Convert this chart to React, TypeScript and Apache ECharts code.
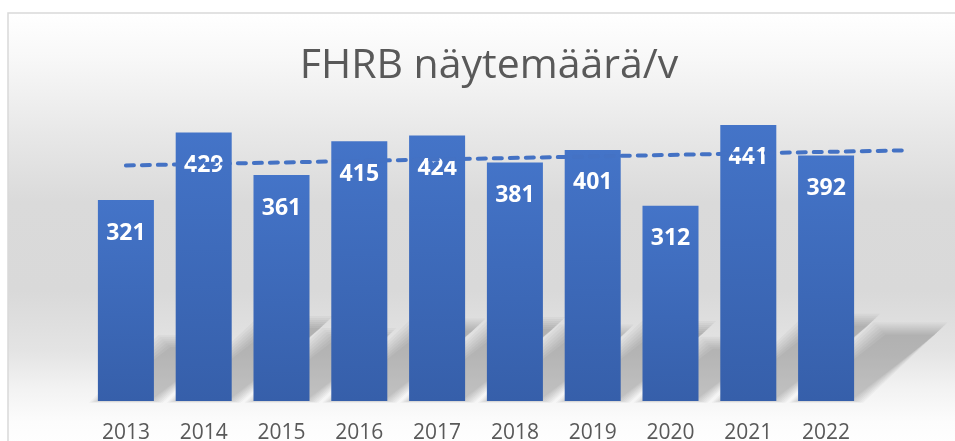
import React, { useEffect, useRef } from "react";
import * as echarts from "echarts";

const CATEGORIES = ["2013", "2014", "2015", "2016", "2017", "2018", "2019", "2020", "2021", "2022"];
const VALUES = [321, 429, 361, 415, 424, 381, 401, 312, 441, 392];
// linear trend line: [category index, value]
const TREND_POINTS = [
  [0, 377],
  [10, 401],
];
const TITLE = "FHRB näytemäärä/v";

const SHADOW_DX = 0.344;
const SHADOW_DY = 0.283;
const SHADOW_STEPS = [9, 7, 5, 3, 1, -1, -3];
const BAR_FRACTION = 0.72;

export default function App() {
  const ref = useRef<HTMLDivElement>(null);

  useEffect(() => {
    if (!ref.current) return;
    const chart = echarts.init(ref.current, undefined, { renderer: "svg" });

    const bgGradient = new echarts.graphic.LinearGradient(0, 0, 0, 1, [
      { offset: 0, color: "#ffffff" },
      { offset: 0.1, color: "#f8f8f8" },
      { offset: 0.27, color: "#e8e8e8" },
      { offset: 0.43, color: "#dadada" },
      { offset: 0.63, color: "#d9d9d9" },
      { offset: 0.77, color: "#e4e4e4" },
      { offset: 0.85, color: "#f2f2f2" },
      { offset: 0.93, color: "#fcfcfc" },
      { offset: 1, color: "#ffffff" },
    ]);

    const option: any = {
      animation: false,
      graphic: [
        {
          type: "rect",
          z: -10,
          silent: true,
          shape: { x: 8, y: 13, width: 960, height: 440 },
          style: { fill: bgGradient, stroke: "#d9d9d9", lineWidth: 1.5 },
        },
        {
          type: "text",
          z: 10,
          x: 489,
          y: 62,
          style: {
            text: TITLE,
            align: "center",
            verticalAlign: "middle",
            fontSize: 41,
            fontFamily: "Open Sans",
            fontWeight: "normal",
            fill: "#595959",
          },
        },
      ],
      grid: [
        { left: 87, right: 90, top: 88, bottom: 38 },
        // same scale, one category wider on the right, for the forward trend
        { left: 87, right: 12.2, top: 88, bottom: 38 },
      ],
      xAxis: [
        {
          type: "category",
          gridIndex: 0,
          data: CATEGORIES,
          axisLine: { show: false },
          axisTick: { show: false },
          axisLabel: {
            margin: 19,
            fontSize: 21,
            color: "#595959",
            fontFamily: "Open Sans",
          },
          splitLine: { show: false },
        },
        {
          type: "value",
          gridIndex: 1,
          min: -0.5,
          max: 10.5,
          show: false,
          splitLine: { show: false },
        },
      ],
      yAxis: [
        {
          type: "value",
          gridIndex: 0,
          min: 0,
          max: 500,
          show: false,
          splitLine: { show: false },
        },
        {
          type: "value",
          gridIndex: 1,
          min: 0,
          max: 500,
          show: false,
          splitLine: { show: false },
        },
      ],
      series: [
        {
          type: "custom",
          z: 1,
          silent: true,
          xAxisIndex: 0,
          yAxisIndex: 0,
          data: VALUES.map((v, i) => [i, v]),
          encode: { x: 0, y: 1 },
          renderItem: (params: any, api: any) => {
            const i = api.value(0);
            const v = api.value(1);
            const base = api.coord([i, 0]);
            const top = api.coord([i, v]);
            const h = base[1] - top[1];
            const bw = api.size([1, 0])[0] * BAR_FRACTION;
            const xl = base[0] - bw / 2;
            const xr = base[0] + bw / 2;
            const y0 = base[1];
            const dx = h * SHADOW_DX;
            const dy = h * SHADOW_DY;
            const children = SHADOW_STEPS.map((e) => ({
              type: "polygon",
              shape: {
                points: [
                  [xl - e, y0 + e * 0.2],
                  [xr + e, y0 + e * 0.2],
                  [xr + dx + e, y0 - dy - e],
                  [xl + dx - e, y0 - dy - e],
                ],
              },
              style: { fill: "rgba(0,0,0,0.03)" },
            }));
            return { type: "group", children };
          },
        },
        {
          type: "bar",
          z: 2,
          xAxisIndex: 0,
          yAxisIndex: 0,
          data: VALUES,
          barCategoryGap: "28%",
          itemStyle: {
            color: new echarts.graphic.LinearGradient(0, 0, 0, 1, [
              { offset: 0, color: "#4474C8" },
              { offset: 1, color: "#365FAA" },
            ]),
          },
          label: {
            show: true,
            position: "insideTop",
            distance: 19,
            color: "#ffffff",
            fontSize: 23,
            fontWeight: "bold",
            fontFamily: "Open Sans",
          },
        },
        {
          type: "line",
          z: 2,
          xAxisIndex: 1,
          yAxisIndex: 1,
          data: TREND_POINTS,
          symbol: "none",
          clip: false,
          silent: true,
          lineStyle: {
            color: "#4472C4",
            width: 4,
            type: [8, 8],
            cap: "round",
          },
        },
      ],
    };

    chart.setOption(option);
    return () => chart.dispose();
  }, []);

  return (
    <div
      ref={ref}
      style={{ position: "fixed", left: 0, top: 0, width: 955, height: 441 }}
    />
  );
}
